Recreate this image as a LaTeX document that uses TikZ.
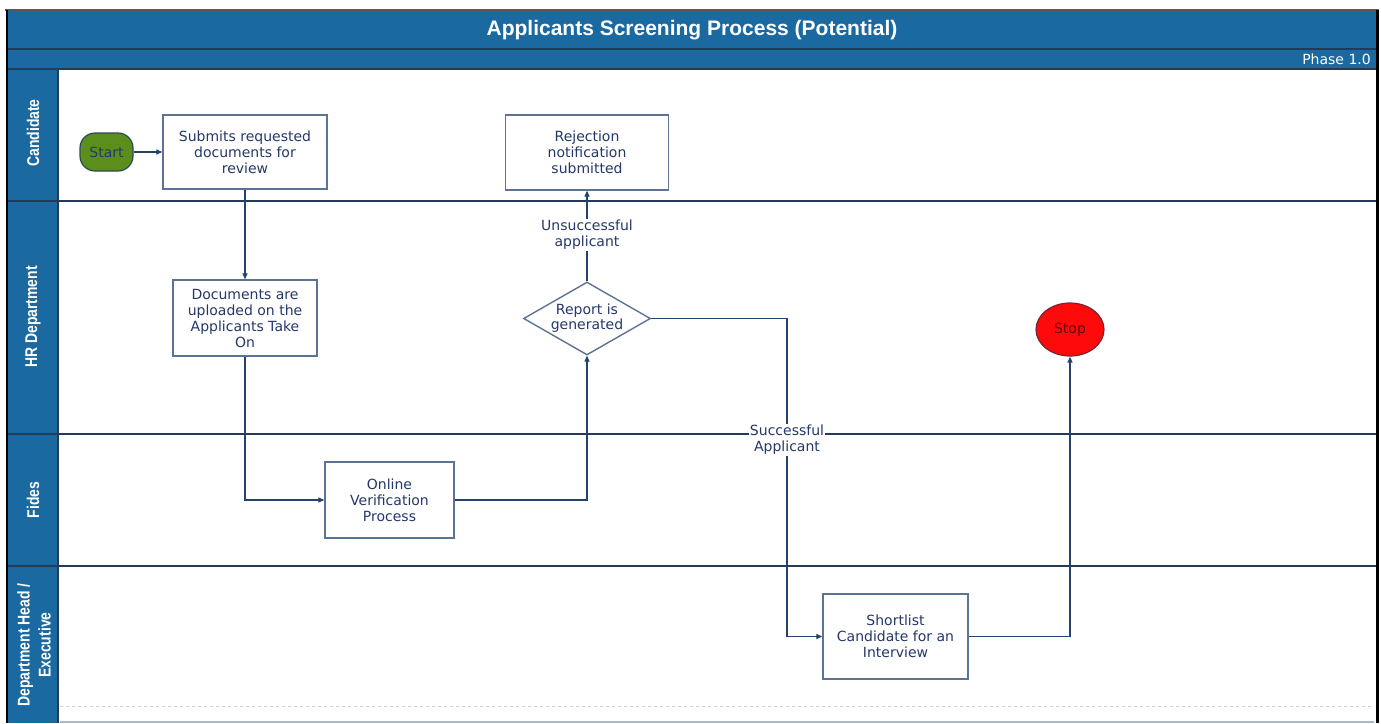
\documentclass[tikz,border=0pt]{standalone}
\usepackage{fontspec}
\setmainfont{DejaVu Sans}
\newfontfamily\titlefont{Liberation Sans}
\usetikzlibrary{shapes.geometric,arrows.meta}
\definecolor{hdr}{HTML}{1A69A0}
\definecolor{sepc}{HTML}{233A58}
\definecolor{boxc}{HTML}{5C7393}
\definecolor{txtc}{HTML}{26386A}
\definecolor{connc}{HTML}{24426C}
\definecolor{startg}{HTML}{5C8E1E}
\definecolor{stopr}{HTML}{FF0A0A}
\tikzset{
  sepline/.style={draw=sepc, line width=2.4pt},
  proc/.style={draw=boxc, line width=1.4pt, fill=white, align=center, text=txtc,
    font=\fontsize{14}{16}\selectfont, inner sep=2pt},
  decision/.style={diamond, draw=boxc, line width=1.4pt, fill=white, align=center,
    text=txtc, font=\fontsize{14}{15}\selectfont, inner sep=0pt, aspect=1.74,
    minimum width=127pt, minimum height=73pt},
  startnode/.style={draw=sepc!80!startg, line width=1.2pt, fill=startg, rounded corners=15pt,
    minimum width=53pt, minimum height=38pt, inner sep=0pt, text=txtc,
    font=\fontsize{14}{16}\selectfont},
  stopnode/.style={ellipse, draw=sepc!60!red, line width=1.2pt, fill=stopr,
    minimum width=68pt, minimum height=53pt, inner sep=0pt, text=red!40!black,
    font=\fontsize{14}{16}\selectfont},
  conn/.style={draw=connc, line width=1.3pt, -{Triangle[length=6pt,width=5pt]}},
  lbl/.style={fill=white, align=center, text=txtc, font=\fontsize{14}{16}\selectfont, inner sep=1pt},
  lanelbl/.style={rotate=90, text=white, align=center,
    font=\titlefont\bfseries\fontsize{17}{21}\selectfont}
}
\begin{document}
\begin{tikzpicture}[x=1pt,y=-1pt]
\useasboundingbox (0,0) rectangle (1381,723);
\fill[white] (0,0) rectangle (1381,723);

% header bars and lane label column
\fill[hdr] (8,11) rectangle (1376,69);
\fill[hdr] (8,69) rectangle (58,723);

\node[text=white, font=\titlefont\bfseries\fontsize{21}{24}\selectfont] (title) at (692,30) {Applicants Screening Process (Potential)};
\node[text=white, anchor=east, font=\fontsize{14}{15}\selectfont, inner sep=0pt] (phase) at (1371,59) {Phase 1.0};

% lane separators
\draw[sepline] (8,49) -- (1376,49);
\draw[sepline] (8,69) -- (1376,69);
\draw[sepline] (58,69) -- (58,723);
\draw[sepline] (8,201) -- (1376,201);
\draw[sepline] (8,434) -- (1376,434);
\draw[sepline] (8,566) -- (1376,566);
\draw[gray!35, dashed, line width=1pt] (60,706) -- (1374,706);
\draw[boxc!50, line width=1.5pt] (60,722) -- (1374,722);

% outer borders
\draw[gray!70!black, line width=2pt] (5,10) -- (1379,10);
\draw[black, line width=2.5pt] (7,10) -- (7,723);
\draw[black, line width=3pt] (1377,10) -- (1377,723);

% lane labels
\node[lanelbl] (lcand) at (33,133) {\scalebox{0.82}[1]{Candidate}};
\node[lanelbl] (lhr) at (33,317) {\scalebox{0.82}[1]{HR Department}};
\node[lanelbl] (lfides) at (33,500) {\scalebox{0.82}[1]{Fides}};
\node[lanelbl] (ldept) at (34,645) {\scalebox{0.82}[1]{Department Head /}\\\scalebox{0.82}[1]{Executive}};

% nodes
\node[startnode] (start) at (106.5,152) {Start};
\node[proc, minimum width=164pt, minimum height=74pt] (submit) at (245,152) {Submits requested\\documents for\\review};
\node[proc, minimum width=163pt, minimum height=75pt] (reject) at (587,152.5) {Rejection\\notification\\submitted};
\node[proc, minimum width=144pt, minimum height=76pt] (docs) at (245,318) {Documents are\\uploaded on the\\Applicants Take\\On};
\node[decision] (report) at (587,318.5) {Report is\\generated};
\node[stopnode] (stop) at (1070,329.5) {Stop};
\node[proc, minimum width=129pt, minimum height=76pt] (online) at (389.5,500) {Online\\Verification\\Process};
\node[proc, minimum width=145pt, minimum height=85pt] (short) at (895.5,636.5) {Shortlist\\Candidate for an\\Interview};

% connectors
\coordinate (succ) at (787,440);
\draw[conn] (start) -- (submit);
\draw[conn] (submit) -- (docs);
\draw[conn] (docs.south) |- (online.west);
\draw[conn] (online.east) -| (report.south);
\draw[conn] (report.north) -- (reject.south);
\draw[conn] (report.east) -| (succ) |- (short.west);
\draw[conn] (short.east) -| (stop.south);

% connector labels
\node[lbl] (unsucc) at (587,235) {Unsuccessful\\applicant};
\node[lbl] (succlbl) at (succ) {Successful\\Applicant};
\end{tikzpicture}
\end{document}
